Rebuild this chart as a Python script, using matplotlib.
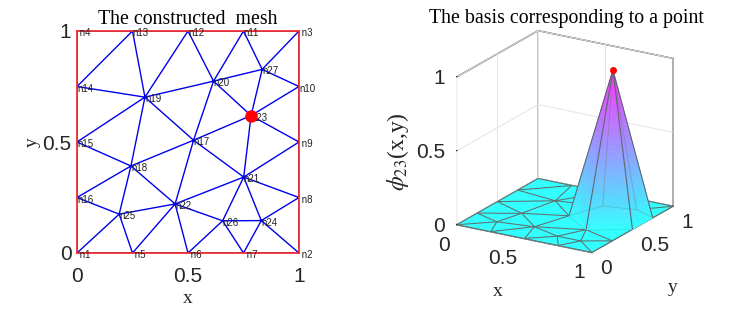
import numpy as np
import matplotlib
matplotlib.use("Agg")
import matplotlib.pyplot as plt
import matplotlib.tri as mtri
from matplotlib.colors import to_rgba
from mpl_toolkits.mplot3d.art3d import Line3DCollection, Poly3DCollection

node_x = [0, 1, 1, 0, .25, .5, .75, 1, 1, 1, .75, .5, .25, 0, 0, 0,
          .525, .243, .306, .615, .751, .442, .784, .83, .19, .656, .834]
node_y = [0, 0, 1, 1, 0, 0, 0, .25, .5, .75, 1, 1, 1, .75, .5, .25,
          .508, .392, .702, .774, .342, .221, .619, .146, .175, .145, .827]
elements = [(4,14,13),(14,19,13),(13,19,12),(12,19,20),(12,20,11),(11,20,27),(11,27,3),
            (3,27,10),(27,23,10),(27,20,23),(23,9,10),(20,17,23),(20,19,17),(19,18,17),
            (14,15,19),(15,18,19),(15,16,18),(16,25,18),(18,25,22),(18,22,17),(17,22,21),
            (17,21,23),(23,21,9),(21,8,9),(21,24,8),(24,2,8),(24,7,2),(26,7,24),(21,26,24),
            (22,26,21),(22,6,26),(26,6,7),(25,5,22),(5,6,22),(1,5,25),(1,25,16)]
basis_node = 23
front_nodes = [17, 21, 9, 10]
ticks = [0, .5, 1]
tick_labels = ['0', '0.5', '1']

x = np.array(node_x); y = np.array(node_y)
tris = np.array(elements) - 1
z = np.zeros_like(x); z[basis_node - 1] = 1.0
edges = sorted({tuple(sorted(e)) for t in tris for e in ((t[0],t[1]),(t[1],t[2]),(t[0],t[2]))})
apex = basis_node - 1
front = {n - 1 for n in front_nodes}

W, H = 753, 316
plt.rcParams['font.family'] = 'Liberation Sans'
fig = plt.figure(figsize=(W/100, H/100), dpi=100)
DK = '#262626'
SERIF = 'Liberation Serif'

# left: mesh
ax = fig.add_axes([77/W, 1-253/H, 222/W, 222/H])
ax.triplot(x, y, tris, color='#0000ee', lw=1.0, zorder=2)
ax.set_xlim(0, 1); ax.set_ylim(0, 1)
ax.set_xticks(ticks, tick_labels); ax.set_yticks(ticks, tick_labels)
ax.tick_params(length=0, labelsize=15, labelcolor=DK)
ax.tick_params(axis='x', pad=10); ax.tick_params(axis='y', pad=4)
for s in ax.spines.values():
    s.set_color('#f03030'); s.set_linewidth(1.3); s.set_zorder(3)
for i, (a, b) in enumerate(zip(x, y), start=1):
    ax.annotate(f"{'n'+str(i):>3}", (a, b), xytext=(0, -1.5), textcoords='offset points',
                fontsize=7, color='#222222', va='center', ha='left', annotation_clip=False, zorder=5)
ax.plot(x[apex], y[apex], 'o', color='#ff0000', ms=8, zorder=6)
ax.set_title('The constructed  mesh', family=SERIF, fontsize=14.3, pad=5, color='k')
ax.set_xlabel('x', family=SERIF, fontsize=14, color=DK, labelpad=3)
ax.set_ylabel('y', family=SERIF, fontsize=14, color=DK, labelpad=1)

# right: basis
AW = 280
ax3 = fig.add_axes([421.2/W, 1-285.3/H, AW/W, AW/H], projection='3d', proj_type='ortho', computed_zorder=False)
ax3.patch.set_alpha(0)
ax3.view_init(elev=20, azim=-59)
ax3.set_box_aspect((1, 1, 1), zoom=0.945)
ax3.set_xlim(0, 1, view_margin=0); ax3.set_ylim(0, 1, view_margin=0); ax3.set_zlim(0, 1, view_margin=0)

flat = tris[~np.any(tris == apex, axis=1)]
peak_front = np.array([t for t in tris if apex in t and all(n == apex or n in front for n in t)])
floor_col = to_rgba('#33ffff')
floor_verts = [np.column_stack((x[t], y[t], z[t])) for t in flat]
ax3.add_collection3d(Poly3DCollection(floor_verts, facecolors=floor_col, edgecolors=floor_col,
                                      linewidths=.3, zorder=1))
is_front = lambda e: apex in e and (e[0] in front or e[1] in front)
seg = lambda e: [(x[e[0]], y[e[0]], z[e[0]]), (x[e[1]], y[e[1]], z[e[1]])]
ax3.add_collection3d(Line3DCollection([seg(e) for e in edges if apex not in e], colors='#5f6f70',
                                      linewidths=.75, zorder=2))
cool = plt.get_cmap('cool')
tri = mtri.Triangulation(x, y, peak_front)
rt, rz = mtri.UniformTriRefiner(tri).refine_field(z, triinterpolator=mtri.LinearTriInterpolator(tri, z), subdiv=5)
verts = [np.column_stack((rt.x[t], rt.y[t], rz[t])) for t in rt.triangles]
cols = 0.8 * cool(np.array([rz[t].mean() for t in rt.triangles])) + 0.2
cols[:, 3] = 1
ax3.add_collection3d(Poly3DCollection(verts, facecolors=cols, edgecolors=cols, linewidths=.4, zorder=3))
back_rim = (16, 19, 26, 9)
ax3.add_collection3d(Line3DCollection([seg(e) for e in edges if e[0] in back_rim and e[1] in back_rim],
                                      colors='#6f6f6f', linewidths=.7, alpha=.25, zorder=4))
ax3.add_collection3d(Line3DCollection([seg(e) for e in edges if apex in e and not is_front(e)], colors='#6f6f6f',
                                      linewidths=.7, alpha=.35, zorder=4))
ax3.add_collection3d(Line3DCollection([seg(e) for e in edges if is_front(e)], colors='#5f6670',
                                      linewidths=.8, zorder=5))
ax3.plot([x[apex]], [y[apex]], [1.0], 'o', color='#ff0000', ms=4, zorder=6)
ax3.set_xticks(ticks, tick_labels); ax3.set_yticks(ticks, tick_labels); ax3.set_zticks(ticks, tick_labels)
ax3.tick_params(labelsize=15, labelcolor=DK)
ax3.tick_params(axis='x', pad=6); ax3.tick_params(axis='y', pad=6); ax3.tick_params(axis='z', pad=4)
for a3 in (ax3.xaxis, ax3.yaxis, ax3.zaxis):
    a3.set_pane_color((1, 1, 1, 1))
    a3.pane.set_edgecolor('#444444'); a3.pane.set_linewidth(1.0)
    a3.line.set_color('#555555'); a3.line.set_linewidth(.9)
    a3._axinfo['grid'].update(color='#e4e4e4', linewidth=.7)
    a3._axinfo['tick'].update(inward_factor=0.0, outward_factor=0.05, linewidth={True: .7, False: .5}, color='#555555')
ax3.zaxis.pane.set_visible(False)
ax3.zaxis._axinfo['juggled'] = (1, 0, 2)
ax3.zaxis.line.set_color('#888888'); ax3.zaxis.line.set_linewidth(1.4)

def shift(t, dx, dy):
    # offset, in pixels, of a text whose place mplot3d sets anew at each draw
    ux = ax3.viewLim.width / AW
    place = t.set_position
    t.set_position = lambda xy: place((xy[0] + dx * ux, xy[1] + dy * ux))

for t in ax3.get_xticklabels(): t.set_ha('right'); shift(t, 4, 15)
for t in ax3.get_yticklabels(): t.set_ha('left'); shift(t, -10, 17)
for t in ax3.get_zticklabels(): t.set_ha('right'); shift(t, 13, 10)
ax3.set_xlabel('x', family=SERIF, fontsize=14, color=DK, labelpad=14)
ax3.set_ylabel('y', family=SERIF, fontsize=14, color=DK, labelpad=14)
ax3.zaxis.set_rotate_label(False)
ax3.set_zlabel(r'$\phi_{23}$(x,y)', family=SERIF, fontsize=17, color=DK, labelpad=14, rotation=90, math_fontfamily='stix')
shift(ax3.xaxis.label, 0, 12)
shift(ax3.yaxis.label, -5, 0)
shift(ax3.zaxis.label, -144, 112)
fig.text(566/W, 1-19/H, 'The basis corresponding to a point', family=SERIF, fontsize=14.3, color='k', ha='center', va='center')
fig.savefig('out.png', dpi=100)
